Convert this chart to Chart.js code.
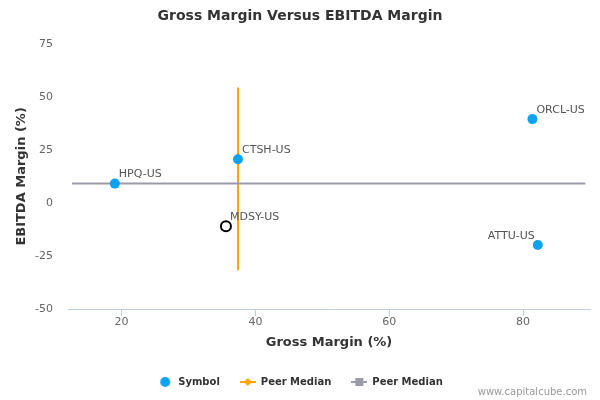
<!DOCTYPE html>
<html>
<head>
<meta charset="utf-8">
<script src="https://cdn.jsdelivr.net/npm/chart.js@4.4.1/dist/chart.umd.min.js"></script>
<style>
  html, body { margin: 0; padding: 0; background: #fff; }
  #wrap { width: 600px; height: 400px; }
</style>
</head>
<body>
<div id="wrap"><canvas id="chart" width="600" height="400"></canvas></div>
<script>
// values
var symbols = ["HPQ-US", "CTSH-US", "MDSY-US", "ORCL-US", "ATTU-US"];
var grossMargin = [19.0, 37.4, 35.6, 81.4, 82.2];
var ebitdaMargin = [9.1, 20.6, -11.0, 39.5, -19.8];
var subject = "MDSY-US";

// peer median lines
var medianGrossLine = { x: [37.4, 37.4], y: [54.4, -31.7] };
var medianEbitdaLine = { x: [12.6, 89.3], y: [9.1, 9.1] };

var yTicks = [-50, -25, 0, 25, 50, 75];
var xTicks = [20, 40, 60, 80];

var FONT = "'DejaVu Sans', Verdana, sans-serif";
var BLUE = "#0ba2f2";
var ORANGE = "#ffa500";
var GREY = "#9a9ca9";
var leftLabels = ["ATTU-US"];

function toPoints(xs, ys) {
    var out = [];
    for (var i = 0; i < xs.length; i++) out.push({ x: xs[i], y: ys[i] });
    return out;
}

// legend icons
function legendIcon(kind) {
    var c = document.createElement("canvas");
    c.width = 16; c.height = 12;
    var g = c.getContext("2d");
    if (kind == "circle") {
        g.fillStyle = BLUE;
        g.beginPath(); g.arc(8, 6, 5, 0, Math.PI * 2); g.fill();
    } else if (kind == "diamond") {
        g.strokeStyle = ORANGE; g.lineWidth = 2;
        g.beginPath(); g.moveTo(0, 6); g.lineTo(16, 6); g.stroke();
        g.fillStyle = ORANGE;
        g.beginPath(); g.moveTo(8, 2); g.lineTo(12, 6); g.lineTo(8, 10); g.lineTo(4, 6); g.closePath(); g.fill();
    } else {
        g.strokeStyle = GREY; g.lineWidth = 2;
        g.beginPath(); g.moveTo(0, 6); g.lineTo(16, 6); g.stroke();
        g.fillStyle = GREY;
        g.fillRect(4, 2, 8, 8);
    }
    return c;
}
var icons = [legendIcon("circle"), legendIcon("diamond"), legendIcon("square")];

var pointFill = [], pointBorder = [], pointBorderW = [];
for (var i = 0; i < symbols.length; i++) {
    if (symbols[i] == subject) {
        pointFill.push("#ffffff"); pointBorder.push("#000000"); pointBorderW.push(2);
    } else {
        pointFill.push(BLUE); pointBorder.push(BLUE); pointBorderW.push(0);
    }
}

var pointLabels = {
    id: "pointLabels",
    afterDatasetsDraw: function (chart) {
        var ctx = chart.ctx;
        var meta = chart.getDatasetMeta(0);
        ctx.save();
        ctx.font = "11px " + FONT;
        ctx.fillStyle = "#555555";
        ctx.textBaseline = "middle";
        meta.data.forEach(function (pt, i) {
            if (leftLabels.indexOf(symbols[i]) >= 0) {
                ctx.textAlign = "right";
                ctx.fillText(symbols[i], pt.x - 3, pt.y - 9);
            } else {
                ctx.textAlign = "left";
                ctx.fillText(symbols[i], pt.x + 4, pt.y - 9);
            }
        });
        ctx.restore();
    }
};

var credits = {
    id: "credits",
    afterDraw: function (chart) {
        var ctx = chart.ctx;
        ctx.save();
        ctx.font = "10px " + FONT;
        ctx.fillStyle = "#999999";
        ctx.textAlign = "right";
        ctx.textBaseline = "middle";
        ctx.fillText("www.capitalcube.com", 587, 392);
        ctx.restore();
    }
};

var chart = new Chart(document.getElementById("chart"), {
    type: "scatter",
    data: {
        datasets: [{
            label: "Symbol",
            data: toPoints(grossMargin, ebitdaMargin),
            pointRadius: 5,
            pointHoverRadius: 5,
            pointBackgroundColor: pointFill,
            pointBorderColor: pointBorder,
            pointBorderWidth: pointBorderW,
            order: 0
        }, {
            label: "Peer Median",
            data: toPoints(medianGrossLine.x, medianGrossLine.y),
            showLine: true,
            borderColor: ORANGE,
            borderWidth: 2,
            pointRadius: 0,
            order: 2
        }, {
            label: "Peer Median",
            data: toPoints(medianEbitdaLine.x, medianEbitdaLine.y),
            showLine: true,
            borderColor: GREY,
            borderWidth: 2,
            pointRadius: 0,
            order: 1
        }]
    },
    options: {
        responsive: false,
        animation: false,
        layout: { padding: { top: 0, left: 0, right: 0, bottom: 3 } },
        plugins: {
            title: {
                display: true,
                text: "Gross Margin Versus EBITDA Margin",
                color: "#333333",
                font: { family: FONT, size: 14, weight: "bold" },
                padding: { top: 8, bottom: 19 }
            },
            legend: {
                position: "bottom",
                labels: {
                    usePointStyle: true,
                    pointStyleWidth: 16,
                    padding: 20,
                    color: "#333333",
                    font: { family: FONT, size: 10, weight: "bold" },
                    generateLabels: function (chart) {
                        return chart.data.datasets.map(function (ds, i) {
                            return {
                                text: ds.label,
                                pointStyle: icons[i],
                                datasetIndex: i,
                                fontColor: "#333333",
                                lineWidth: 0,
                                strokeStyle: "transparent",
                                fillStyle: "transparent"
                            };
                        });
                    }
                }
            },
            tooltip: { enabled: false }
        },
        scales: {
            x: {
                type: "linear",
                min: 12,
                max: 90,
                afterBuildTicks: function (scale) {
                    scale.ticks = xTicks.map(function (v) { return { value: v }; });
                },
                afterFit: function (scale) { scale.height = 48; },
                grid: { drawOnChartArea: false, color: "#c0d0e0", tickLength: 7 },
                border: { color: "#c0d0e0", width: 1 },
                ticks: { color: "#666666", padding: 0, font: { family: FONT, size: 11 } },
                title: {
                    display: true,
                    text: "Gross Margin (%)",
                    color: "#333333",
                    font: { family: FONT, size: 13, weight: "bold" },
                    padding: { top: 0, bottom: 7 }
                }
            },
            y: {
                type: "linear",
                min: -50,
                max: 75,
                afterBuildTicks: function (scale) {
                    scale.ticks = yTicks.map(function (v) { return { value: v }; });
                },
                afterFit: function (scale) { scale.width = 68; },
                grid: { display: false },
                border: { display: false },
                ticks: { color: "#666666", padding: 7, font: { family: FONT, size: 11 } },
                title: {
                    display: true,
                    text: "EBITDA Margin (%)",
                    color: "#333333",
                    font: { family: FONT, size: 13, weight: "bold" },
                    padding: { top: 14, bottom: 0 }
                }
            },
            // empty strip on the right so the plot ends at 590px while title and legend stay centred
            yRight: {
                position: "right",
                display: true,
                afterFit: function (scale) { scale.width = 10; },
                grid: { display: false },
                border: { display: false },
                ticks: { display: false }
            }
        }
    },
    plugins: [pointLabels, credits]
});
</script>
</body>
</html>
